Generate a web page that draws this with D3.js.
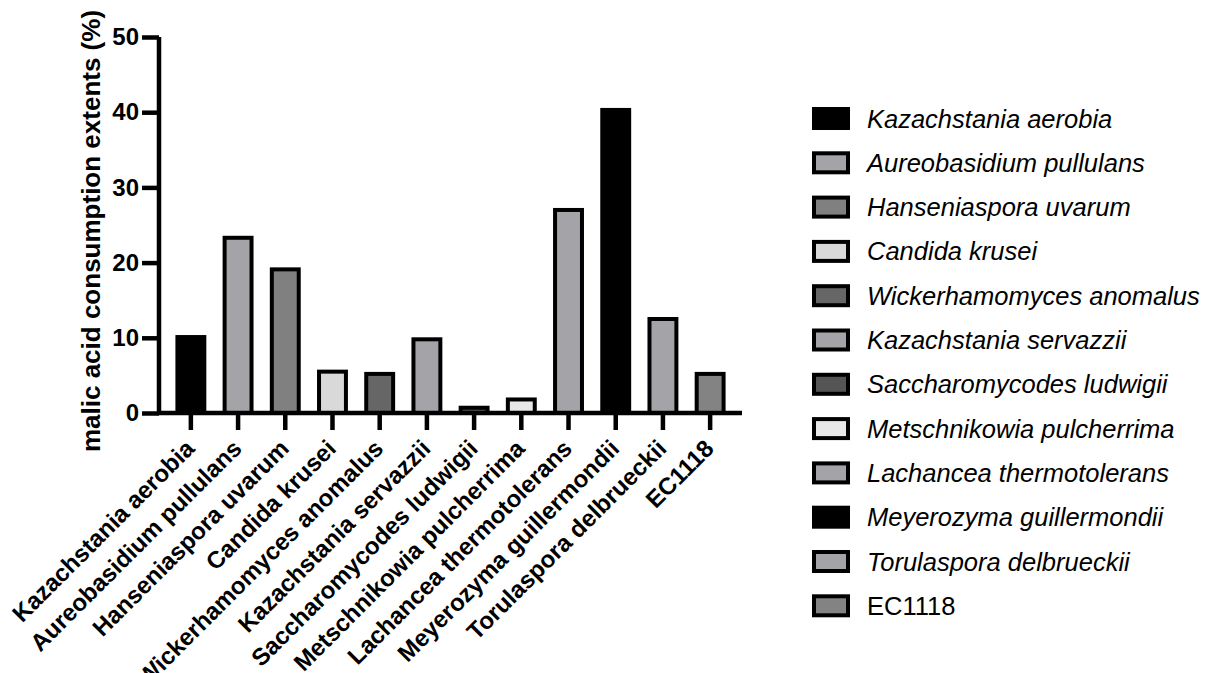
<!DOCTYPE html>
<html>
<head>
<meta charset="utf-8">
<script src="https://cdn.jsdelivr.net/npm/d3@7"></script>
<style>
  html, body { margin: 0; padding: 0; background: #fff; }
  svg { display: block; font-family: "Liberation Sans", Arial, Helvetica, sans-serif; }
</style>
</head>
<body>
<svg id="chart" width="1209" height="673"></svg>
<script>
// Yeast strains and their malic acid consumption (%)
const strains = [
  "Kazachstania aerobia", "Aureobasidium pullulans", "Hanseniaspora uvarum",
  "Candida krusei", "Wickerhamomyces anomalus", "Kazachstania servazzii",
  "Saccharomycodes ludwigii", "Metschnikowia pulcherrima", "Lachancea thermotolerans",
  "Meyerozyma guillermondii", "Torulaspora delbrueckii", "EC1118"
];
const consumption = [10.1, 23.3, 19.1, 5.5, 5.2, 9.8, 0.7, 1.8, 27.0, 40.3, 12.5, 5.2];
const fills = [
  "#000000", "#a3a3a8", "#808080", "#d9d9d9", "#666666", "#a3a3a8",
  "#555555", "#e8e8e8", "#a3a3a8", "#000000", "#a3a3a8", "#838383"
];
const legendLabels = [
  "Kazachstania aerobia", "Aureobasidium pullulans", "Hanseniaspora uvarum",
  "Candida krusei", "Wickerhamomyces anomalus", "Kazachstania servazzii",
  "Saccharomycodes ludwigii", "Metschnikowia pulcherrima", "Lachancea thermotolerans",
  "Meyerozyma guillermondii", "Torulaspora delbrueckii", "EC1118"
];
const yTicks = [0, 10, 20, 30, 40, 50];
const yTitle = "malic acid consumption extents (%)";

const svg = d3.select("#chart");
const plotLeft = 159, plotRight = 742, plotTop = 37, plotBottom = 413;

const x = d3.scaleBand().domain(strains).range([plotLeft, plotRight])
  .paddingInner(0.43).paddingOuter(0.39);
const y = d3.scaleLinear().domain([0, 50]).range([plotBottom, plotTop]);

// Bars
svg.append("g").selectAll("rect").data(strains).join("rect")
  .attr("x", d => x(d))
  .attr("width", x.bandwidth())
  .attr("y", (d, i) => y(consumption[i]))
  .attr("height", (d, i) => y(0) - y(consumption[i]))
  .attr("fill", (d, i) => fills[i])
  .attr("stroke", "#000")
  .attr("stroke-width", 4);

// Y axis
const yAxis = svg.append("g")
  .attr("transform", `translate(${plotLeft},0)`)
  .call(d3.axisLeft(y).tickValues(yTicks).tickSize(17).tickSizeOuter(0).tickPadding(3));
yAxis.select(".domain").attr("stroke-width", 4.5).attr("d", `M0,${plotTop}V${plotBottom + 2}`);
yAxis.selectAll(".tick line").attr("stroke-width", 4.5);
yAxis.selectAll(".tick text")
  .attr("font-size", 24).attr("font-weight", "bold").attr("fill", "#000")
  .attr("font-family", "Liberation Sans, Arial, sans-serif");

// X axis
const xAxis = svg.append("g")
  .attr("transform", `translate(0,${plotBottom})`)
  .call(d3.axisBottom(x).tickSize(17).tickSizeOuter(0));
xAxis.select(".domain").attr("stroke-width", 4.5).attr("d", `M${plotLeft - 2},0H${plotRight}`);
xAxis.selectAll(".tick line").attr("stroke-width", 4.5);
xAxis.selectAll(".tick text")
  .attr("font-size", 24).attr("font-weight", "bold").attr("fill", "#000")
  .attr("font-family", "Liberation Sans, Arial, sans-serif")
  .attr("text-anchor", "end")
  .attr("y", 0).attr("dy", 0)
  .attr("transform", "translate(5,37) rotate(-45)");

// Y axis title
svg.append("text")
  .attr("transform", `translate(100,231) rotate(-90)`)
  .attr("text-anchor", "middle")
  .attr("font-size", 26).attr("font-weight", "bold")
  .text(yTitle);

// Legend
const legend = svg.append("g");
const rows = legend.selectAll("g").data(legendLabels).join("g")
  .attr("transform", (d, i) => `translate(814,${118.5 + i * 44.3})`);
rows.append("rect")
  .attr("x", 0).attr("y", -9.5).attr("width", 34).attr("height", 19)
  .attr("fill", (d, i) => fills[i])
  .attr("stroke", "#000").attr("stroke-width", 4);
rows.append("text")
  .attr("x", 53).attr("y", 9)
  .attr("font-size", 25.5)
  .attr("font-style", d => d === "EC1118" ? "normal" : "italic")
  .text(d => d);
</script>
</body>
</html>
